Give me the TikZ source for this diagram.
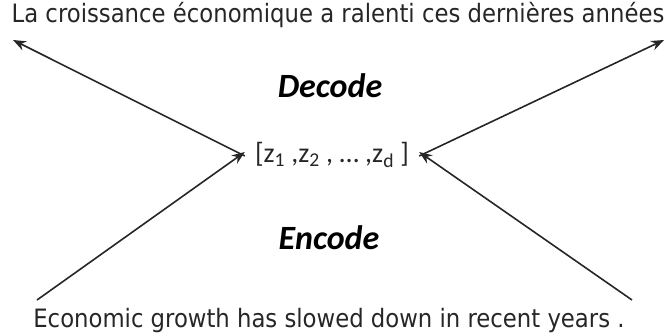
\documentclass[tikz,border=0pt]{standalone}
\usepackage{fontspec}
\setmainfont{DejaVu Sans Condensed}
\newfontfamily\calib{Carlito}
\usetikzlibrary{arrows.meta}
\newcommand{\sbs}[1]{\textsubscript{#1}}
\begin{document}
\begin{tikzpicture}[x=1pt,y=-1pt,
  sent/.style={inner sep=0pt, anchor=base, font=\fontsize{25.3}{30}\selectfont, text=black!85},
  label/.style={inner sep=0pt, font=\calib\bfseries\itshape\fontsize{34}{40}\selectfont},
  vec/.style={inner sep=0pt, font=\calib\fontsize{28}{32}\selectfont, text=black!85},
  arr/.style={line width=1.6pt, black!85, -{Stealth[length=13pt,width=10pt]}}]
\useasboundingbox (0,0) rectangle (668,333);
\node[sent] (top) at (338,22) {La croissance économique a ralenti ces dernières années};
\node[sent] (bot) at (329,327) {Economic growth has slowed down in recent years .};
\node[label] (dec) at (330,86) {Decode};
\node[label] (enc) at (329,238) {Encode};
\node[vec, inner xsep=10pt] (z) at (332,155) {[z\sbs{1} ,z\sbs{2} , \dots\ ,z\sbs{d} ]};
\coordinate (tl) at (13,40);
\coordinate (tr) at (664,40);
\coordinate (bl) at (37,300);
\coordinate (br) at (632,300);
\draw[arr] ([yshift=-1pt]z.west) -- (tl);
\draw[arr] ([yshift=-1pt]z.east) -- (tr);
\draw[arr] (bl) -- ([yshift=3pt]z.west);
\draw[arr] (br) -- ([yshift=3pt]z.east);
\end{tikzpicture}
\end{document}
